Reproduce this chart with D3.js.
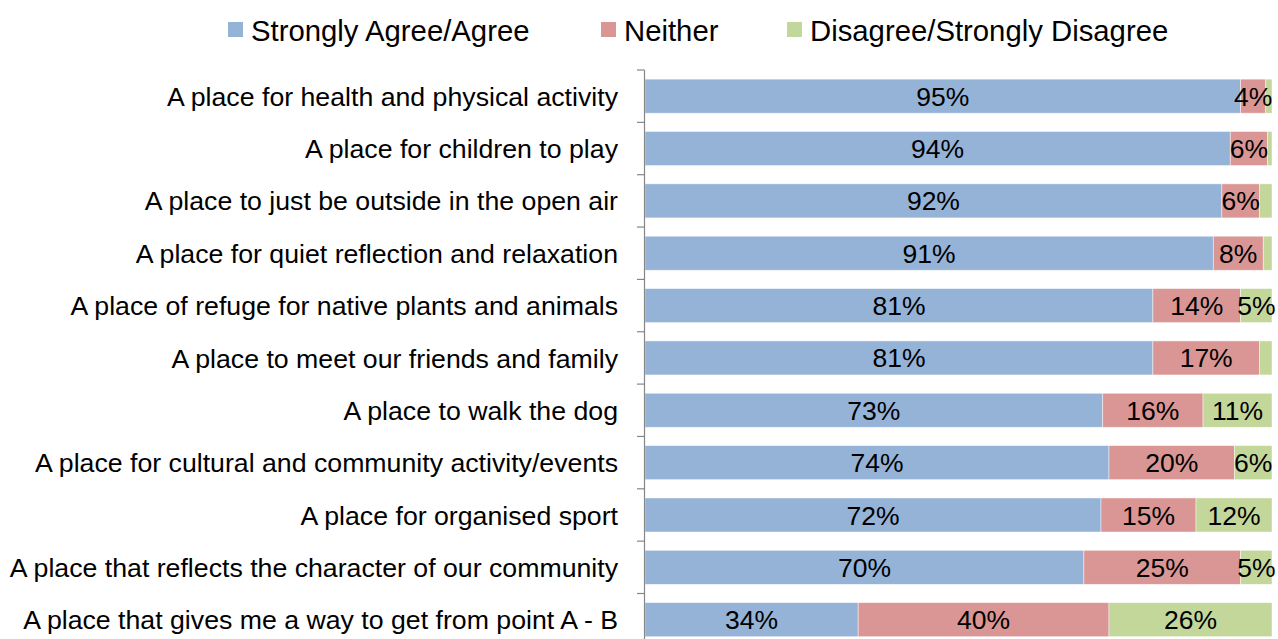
<!DOCTYPE html>
<html>
<head>
<meta charset="utf-8">
<script src="https://cdn.jsdelivr.net/npm/d3@7/dist/d3.min.js"></script>
<style>
  html, body { margin: 0; padding: 0; background: #fff; }
  svg { display: block; font-family: "Liberation Sans", Arial, sans-serif; }
</style>
</head>
<body>
<svg id="chart" width="1278" height="639"></svg>
<script>
// Survey statements (top to bottom)
const categories = [
  "A place for health and physical activity",
  "A place for children to play",
  "A place to just be outside in the open air",
  "A place for quiet reflection and relaxation",
  "A place of refuge for native plants and animals",
  "A place to meet our friends and family",
  "A place to walk the dog",
  "A place for cultural and community activity/events",
  "A place for organised sport",
  "A place that reflects the character of our community",
  "A place that gives me a way to get from point A - B"
];

// Response shares (%) per statement
const agree    = [95, 94, 92, 91, 81, 81, 73, 74, 72, 70, 34];
const neither  = [4, 6, 6, 8, 14, 17, 16, 20, 15, 25, 40];
const disagree = [1, 0.7, 2, 1.4, 5, 2, 11, 6, 12, 5, 26];

const seriesNames  = ["Strongly Agree/Agree", "Neither", "Disagree/Strongly Disagree"];
const seriesColors = ["#95B3D7", "#DA9694", "#C4D79B"];

// Rows for the stack, each normalised to a 100% total
const rows = categories.map((c, i) => {
  const total = agree[i] + neither[i] + disagree[i];
  return {
    category: c,
    raw: [agree[i], neither[i], disagree[i]],
    s0: agree[i] / total * 100,
    s1: neither[i] / total * 100,
    s2: disagree[i] / total * 100
  };
});

const svg = d3.select("#chart");

const x = d3.scaleLinear().domain([0, 100]).range([645, 1272]);
const y = d3.scaleBand()
  .domain(categories)
  .range([70, 70 + categories.length * 52.35])
  .paddingInner(0.35)
  .paddingOuter(0.175);

const stack = d3.stack().keys(["s0", "s1", "s2"]);
const layers = stack(rows);

// Bars
const g = svg.append("g");
layers.forEach((layer, k) => {
  g.selectAll(null)
    .data(layer)
    .join("rect")
    .attr("x", d => x(d[0]))
    .attr("y", d => y(d.data.category))
    .attr("width", d => x(d[1]) - x(d[0]))
    .attr("height", y.bandwidth())
    .attr("fill", seriesColors[k])
    .attr("stroke", "#ffffff")
    .attr("stroke-opacity", 0.6)
    .attr("stroke-width", 0.75);
});

// Value labels, centred in each segment
layers.forEach((layer, k) => {
  g.selectAll(null)
    .data(layer.filter(d => d.data.raw[k] >= 3))
    .join("text")
    .attr("x", d => (x(d[0]) + x(d[1])) / 2)
    .attr("y", d => y(d.data.category) + y.bandwidth() / 2)
    .attr("dy", "0.36em")
    .attr("text-anchor", "middle")
    .attr("font-size", 26.5)
    .attr("fill", "#000")
    .text(d => d.data.raw[k] + "%");
});

// Category axis
const axis = svg.append("g");
const axisX = 644.5;
axis.append("line")
  .attr("x1", axisX).attr("x2", axisX)
  .attr("y1", y.range()[0]).attr("y2", y.range()[1])
  .attr("stroke", "#868686").attr("stroke-width", 1.2);

const tickYs = d3.range(categories.length + 1).map(i => y.range()[0] + i * y.step());
axis.selectAll(null)
  .data(tickYs)
  .join("line")
  .attr("x1", 637).attr("x2", axisX)
  .attr("y1", d => d).attr("y2", d => d)
  .attr("stroke", "#868686").attr("stroke-width", 1.2);

axis.selectAll(null)
  .data(categories)
  .join("text")
  .attr("x", 618)
  .attr("y", d => y(d) + y.bandwidth() / 2)
  .attr("dy", "0.36em")
  .attr("text-anchor", "end")
  .attr("font-size", 26.7)
  .attr("fill", "#000")
  .text(d => d);

// Legend
const legendX = [228, 601, 787];
const legend = svg.append("g");
seriesNames.forEach((name, k) => {
  legend.append("rect")
    .attr("x", legendX[k]).attr("y", 22)
    .attr("width", 15).attr("height", 15)
    .attr("fill", seriesColors[k]);
  legend.append("text")
    .attr("x", legendX[k] + 23)
    .attr("y", 30)
    .attr("dy", "0.36em")
    .attr("font-size", 29.3)
    .attr("fill", "#000")
    .text(name);
});
</script>
</body>
</html>
